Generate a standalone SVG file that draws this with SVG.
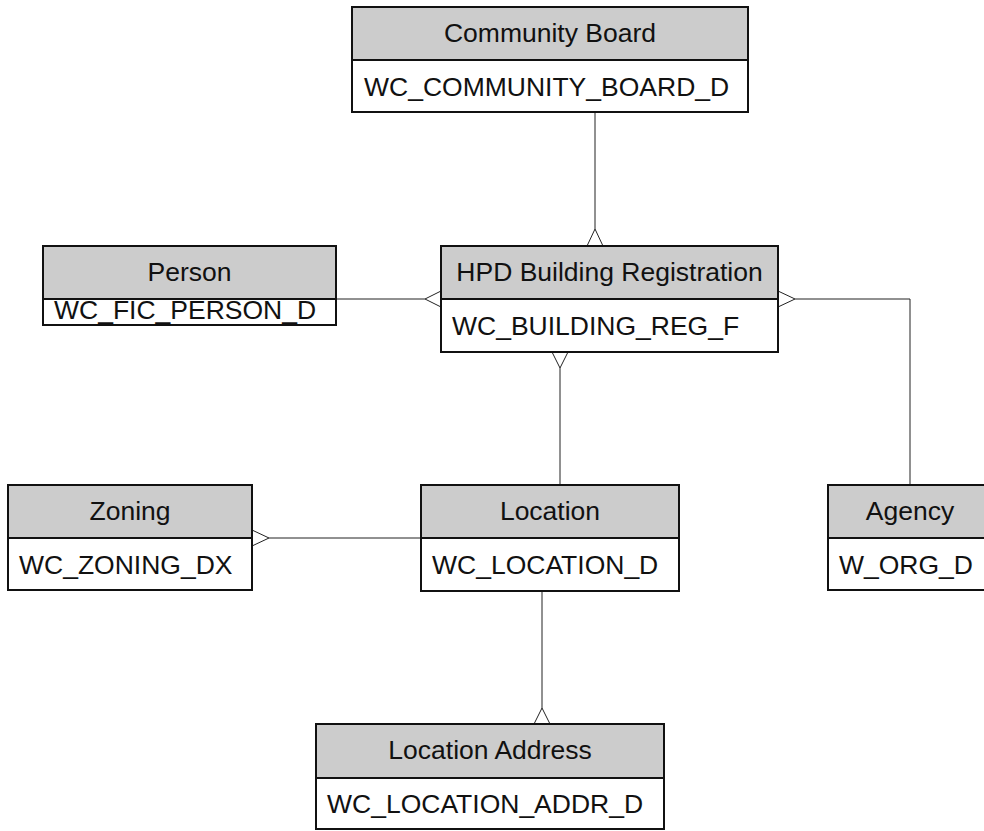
<svg xmlns="http://www.w3.org/2000/svg" width="984" height="831" viewBox="0 0 984 831">
<style>
.box{fill:#ffffff;stroke:#111111;stroke-width:2}
.hdr{fill:#cccccc;stroke:#111111;stroke-width:2}
.t{font-family:"Liberation Sans",Arial,sans-serif;font-size:26.5px;fill:#111111}
.c{text-anchor:middle}
.conn{fill:none;stroke:#222222;stroke-width:1}
</style>
<rect width="984" height="831" fill="#ffffff"/>
<g id="connectors">
<path class="conn" d="M595 112V229M587 246L595 229L603 246"/>
<path class="conn" d="M336 299H425M441 291L425 299L441 307"/>
<path class="conn" d="M795 299H910V485M778 291L795 299L778 307"/>
<path class="conn" d="M560 485V368M552 352L560 368L568 352"/>
<path class="conn" d="M421 538H269M252 530L269 538L252 546"/>
<path class="conn" d="M542 591V708M534 724L542 708L550 724"/>
</g>
<g id="community-board">
<rect class="box" x="352" y="60" width="396" height="52"/>
<rect class="hdr" x="352" y="7" width="396" height="53"/>
<text class="t c" x="550" y="42">Community Board</text>
<text class="t" x="364" y="96">WC_COMMUNITY_BOARD_D</text>
</g>
<g id="person">
<rect class="box" x="43" y="299" width="293" height="26"/>
<rect class="hdr" x="43" y="246" width="293" height="53"/>
<text class="t c" x="189.5" y="281">Person</text>
<text class="t" x="54" y="319">WC_FIC_PERSON_D</text>
</g>
<g id="hpd-building-registration">
<rect class="box" x="441" y="299" width="337" height="53"/>
<rect class="hdr" x="441" y="246" width="337" height="53"/>
<text class="t c" x="609.5" y="281">HPD Building Registration</text>
<text class="t" x="452" y="335">WC_BUILDING_REG_F</text>
</g>
<g id="zoning">
<rect class="box" x="8" y="538" width="244" height="52"/>
<rect class="hdr" x="8" y="485" width="244" height="53"/>
<text class="t c" x="130" y="520">Zoning</text>
<text class="t" x="19" y="574">WC_ZONING_DX</text>
</g>
<g id="location">
<rect class="box" x="421" y="538" width="258" height="53"/>
<rect class="hdr" x="421" y="485" width="258" height="53"/>
<text class="t c" x="550" y="520">Location</text>
<text class="t" x="432" y="574">WC_LOCATION_D</text>
</g>
<g id="agency">
<rect class="box" x="828" y="538" width="180" height="52"/>
<rect class="hdr" x="828" y="485" width="180" height="53"/>
<text class="t c" x="910" y="520">Agency</text>
<text class="t" x="839" y="574">W_ORG_D</text>
</g>
<g id="location-address">
<rect class="box" x="316" y="778" width="348" height="51"/>
<rect class="hdr" x="316" y="724" width="348" height="54"/>
<text class="t c" x="490" y="759">Location Address</text>
<text class="t" x="327" y="813">WC_LOCATION_ADDR_D</text>
</g>
</svg>
